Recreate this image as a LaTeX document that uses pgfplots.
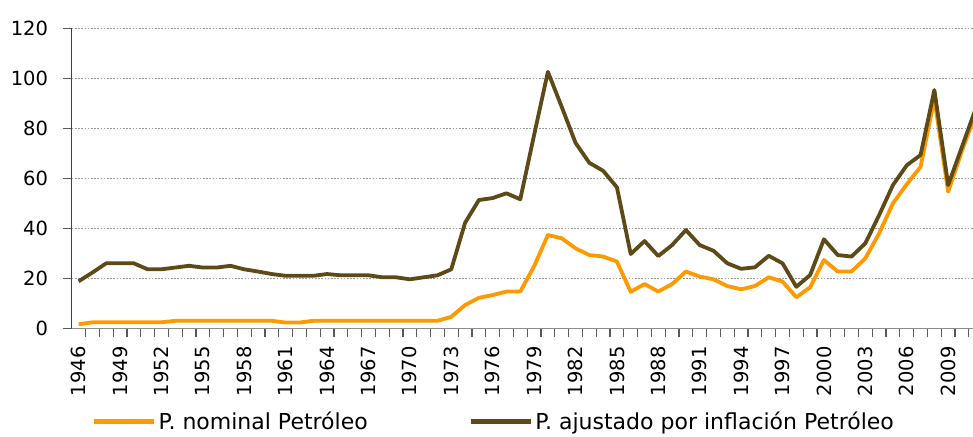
\documentclass[border=0pt]{standalone}
\usepackage{pgfplots}
\pgfplotsset{compat=1.18}
\usepackage{fontspec}
\setmainfont{DejaVu Sans}
\definecolor{nomc}{HTML}{FF9900}
\definecolor{realc}{HTML}{5E4A17}
\begin{document}
\begin{tikzpicture}
\useasboundingbox (0,0) rectangle (973pt,436pt);
\begin{axis}[
  at={(71.7pt,107.7pt)}, anchor=south west,
  scale only axis, width=901.3pt, height=300pt,
  xmin=1945.5, xmax=2010.8, ymin=0, ymax=120,
  axis x line*=bottom, axis y line*=left,
  x axis line style={draw=black!45, line width=1.2pt, -},
  y axis line style={draw=black!75, line width=1.2pt, -},
  tick align=outside,
  major tick length=8.5pt,
  ytick={0,20,...,120},
  xtick={1946.5,1947.5,...,2010.5},
  xticklabels={1946,{},{},1949,{},{},1952,{},{},1955,{},{},1958,{},{},1961,{},{},1964,{},{},1967,{},{},1970,{},{},1973,{},{},1976,{},{},1979,{},{},1982,{},{},1985,{},{},1988,{},{},1991,{},{},1994,{},{},1997,{},{},2000,{},{},2003,{},{},2006,{},{},2009,{}},
  tick style={black!65, line width=1.2pt},
  ymajorgrids,
  grid style={draw=black!40, line width=1pt, dash pattern=on 1.6pt off 1.6pt},
  /pgf/number format/assume math mode=true,
  /pgf/number format/1000 sep={},
  ticklabel style={font=\fontsize{19.5}{22}\selectfont, text=black},
  yticklabel style={anchor=east, inner sep=0pt, xshift=-15pt},
  xticklabel style={xshift=-6.9pt, yshift=-9.5pt, rotate=90, anchor=east, inner sep=0pt},
  legend columns=2,
  legend style={draw=none, fill=none, at={(axis description cs:0.0225,-0.31)}, anchor=west,
    inner sep=0pt, font=\fontsize{22}{24}\selectfont,
    /tikz/every even column/.append style={column sep=99pt}},
  legend image code/.code={\draw[#1, line width=4.5pt] (0pt,0pt) -- (60pt,0pt);},
  clip=true,
]
\addplot[nomc, line width=3.8pt, line join=round] table[x=year, y=nom] {
year nom real
1946 1.6 18.8
1947 2.4 22.3
1948 2.4 26.0
1949 2.4 26.0
1950 2.4 26.0
1951 2.4 23.6
1952 2.4 23.6
1953 3.0 24.3
1954 3.0 25.0
1955 3.0 24.3
1956 3.0 24.3
1957 3.0 25.0
1958 3.0 23.6
1959 3.0 22.7
1960 3.0 21.7
1961 2.3 21.0
1962 2.3 21.0
1963 3.0 21.0
1964 3.0 21.7
1965 3.0 21.2
1966 3.0 21.2
1967 3.0 21.2
1968 3.0 20.4
1969 3.0 20.4
1970 3.0 19.6
1971 3.0 20.4
1972 3.0 21.2
1973 4.6 23.6
1974 9.3 42.2
1975 12.2 51.3
1976 13.3 52.1
1977 14.7 54.0
1978 14.7 51.6
1979 24.8 77.3
1980 37.3 102.6
1981 36.0 88.6
1982 32.0 74.2
1983 29.3 66.2
1984 28.7 63.0
1985 26.7 56.4
1986 14.6 29.7
1987 17.7 34.9
1988 14.7 28.9
1989 17.7 33.3
1990 22.7 39.3
1991 20.7 33.3
1992 19.6 31.0
1993 16.9 26.0
1994 15.6 23.8
1995 16.9 24.4
1996 20.4 29.0
1997 18.7 26.0
1998 12.4 16.6
1999 16.4 21.3
2000 27.3 35.6
2001 22.7 29.3
2002 22.7 28.7
2003 28.0 34.0
2004 38.0 45.3
2005 50.0 57.3
2006 57.6 65.2
2007 64.6 69.3
2008 91.8 95.3
2009 54.6 57.3
2010 71.0 72.6
2011 86.0 88.0
};
\addlegendentry{P. nominal Petróleo}
\addplot[realc, line width=3.8pt, line join=round] table[x=year, y=real] {
year nom real
1946 1.6 18.8
1947 2.4 22.3
1948 2.4 26.0
1949 2.4 26.0
1950 2.4 26.0
1951 2.4 23.6
1952 2.4 23.6
1953 3.0 24.3
1954 3.0 25.0
1955 3.0 24.3
1956 3.0 24.3
1957 3.0 25.0
1958 3.0 23.6
1959 3.0 22.7
1960 3.0 21.7
1961 2.3 21.0
1962 2.3 21.0
1963 3.0 21.0
1964 3.0 21.7
1965 3.0 21.2
1966 3.0 21.2
1967 3.0 21.2
1968 3.0 20.4
1969 3.0 20.4
1970 3.0 19.6
1971 3.0 20.4
1972 3.0 21.2
1973 4.6 23.6
1974 9.3 42.2
1975 12.2 51.3
1976 13.3 52.1
1977 14.7 54.0
1978 14.7 51.6
1979 24.8 77.3
1980 37.3 102.6
1981 36.0 88.6
1982 32.0 74.2
1983 29.3 66.2
1984 28.7 63.0
1985 26.7 56.4
1986 14.6 29.7
1987 17.7 34.9
1988 14.7 28.9
1989 17.7 33.3
1990 22.7 39.3
1991 20.7 33.3
1992 19.6 31.0
1993 16.9 26.0
1994 15.6 23.8
1995 16.9 24.4
1996 20.4 29.0
1997 18.7 26.0
1998 12.4 16.6
1999 16.4 21.3
2000 27.3 35.6
2001 22.7 29.3
2002 22.7 28.7
2003 28.0 34.0
2004 38.0 45.3
2005 50.0 57.3
2006 57.6 65.2
2007 64.6 69.3
2008 91.8 95.3
2009 54.6 57.3
2010 71.0 72.6
2011 86.0 88.0
};
\addlegendentry{P. ajustado por inflación Petróleo}
\end{axis}
\end{tikzpicture}
\end{document}
